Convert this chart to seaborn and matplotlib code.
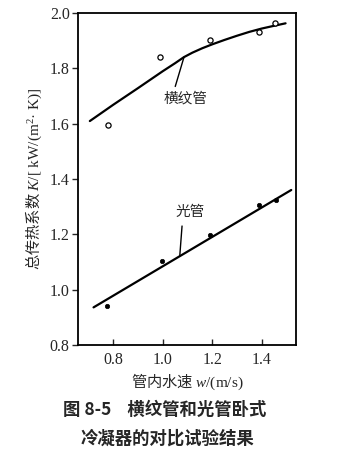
import matplotlib
matplotlib.use("Agg")
import matplotlib.pyplot as plt
import seaborn as sns
import pandas as pd

# Data
ribbed_x = [0.78, 0.99, 1.19, 1.39, 1.455]
ribbed_y = [1.595, 1.84, 1.90, 1.93, 1.963]
ribbed_fit_x = [0.705, 0.80, 0.90, 1.00, 1.05, 1.086, 1.12, 1.16, 1.20, 1.25, 1.30, 1.35, 1.40, 1.45, 1.497]
ribbed_fit_y = [1.609, 1.668, 1.728, 1.789, 1.818, 1.840, 1.856, 1.872, 1.886, 1.902, 1.917, 1.931, 1.943, 1.953, 1.962]

plain_x = [0.775, 0.995, 1.19, 1.39, 1.457]
plain_y = [0.942, 1.105, 1.197, 1.306, 1.324]
plain_fit_x = [0.72, 1.52]
plain_fit_y = [0.936, 1.360]

x_ticks = [0.8, 1.0, 1.2, 1.4]
y_ticks = [0.8, 1.0, 1.2, 1.4, 1.6, 1.8, 2.0]

label_ribbed = "横纹管"
label_plain = "光管"
xlabel = r"管内水速 $\mathit{w}\mathsf{/(m/s)}$"
ylabel = r"总传热系数 $\mathit{K}\mathsf{/[\ kW/(m^{2}·\ K)]}$"
caption1 = "图 8-5    横纹管和光管卧式"
caption2 = "冷凝器的对比试验结果"

sns.set_style("ticks")
plt.rcParams['font.family'] = ['Noto Sans CJK SC', 'Liberation Serif']
plt.rcParams['mathtext.fontset'] = 'custom'
plt.rcParams['mathtext.it'] = 'Liberation Serif:italic'
plt.rcParams['mathtext.rm'] = 'Liberation Serif'
plt.rcParams['mathtext.sf'] = 'Liberation Serif'

fig = plt.figure(figsize=(3.39, 4.57), dpi=100)
ax = fig.add_axes([0.230, 0.245, 0.643, 0.727])

pts_r = pd.DataFrame({"x": ribbed_x, "y": ribbed_y})
pts_p = pd.DataFrame({"x": plain_x, "y": plain_y})
fit_r = pd.DataFrame({"x": ribbed_fit_x, "y": ribbed_fit_y})
fit_p = pd.DataFrame({"x": plain_fit_x, "y": plain_fit_y})

sns.lineplot(data=fit_r, x="x", y="y", ax=ax, color="black", lw=1.6, sort=True)
sns.lineplot(data=fit_p, x="x", y="y", ax=ax, color="black", lw=1.6, sort=True)
sns.scatterplot(data=pts_r, x="x", y="y", ax=ax, marker="o", s=14,
                facecolor="white", edgecolor="black", linewidth=0.9, zorder=3)
sns.scatterplot(data=pts_p, x="x", y="y", ax=ax, marker="o", s=10,
                color="black", edgecolor="black", linewidth=0.5, zorder=3)

ax.set_xlim(0.657, 1.539)
ax.set_ylim(0.8, 2.0)
ax.set_xticks(x_ticks)
ax.set_yticks(y_ticks)
ax.set_xticklabels([f"{v:.1f}" for v in x_ticks], fontsize=11.5, family='Liberation Serif')
ax.set_yticklabels([f"{v:.1f}" for v in y_ticks], fontsize=11.5, family='Liberation Serif')
ax.tick_params(axis='x', direction='in', length=4, width=1.0, pad=5)
ax.tick_params(axis='y', direction='out', length=4, width=1.0, pad=2)
for sp in ax.spines.values():
    sp.set_visible(True)
    sp.set_linewidth(1.3)
    sp.set_color("black")

ax.set_xlabel(xlabel, fontsize=11, labelpad=3,
              family=['Noto Sans CJK SC', 'Liberation Serif'])
ax.set_ylabel(ylabel, fontsize=11, labelpad=4,
              family=['Noto Sans CJK SC', 'Liberation Serif'])

ax.annotate(label_ribbed, xy=(ribbed_fit_x[5], ribbed_fit_y[5]), xytext=(1.093, 1.692),
            ha='center', va='center', fontsize=10.5, family='Noto Sans CJK SC',
            arrowprops=dict(arrowstyle='-', color='black', lw=1.0, relpos=(0.23, 1.0),
                            shrinkA=1, shrinkB=0))
ax.annotate(label_plain, xy=(1.069, 1.123), xytext=(1.11, 1.282),
            ha='center', va='center', fontsize=10.5, family='Noto Sans CJK SC',
            arrowprops=dict(arrowstyle='-', color='black', lw=1.0, relpos=(0.25, 0.0),
                            shrinkA=3, shrinkB=0))

fig.text(0.487, 1 - 410/457, caption1, ha='center', va='center', fontsize=12.5,
         fontweight='bold', family=['Noto Sans CJK SC', 'Liberation Serif'])
fig.text(0.493, 1 - 439/457, caption2, ha='center', va='center', fontsize=12.5,
         fontweight='bold', family=['Noto Sans CJK SC', 'Liberation Serif'])

fig.savefig("out.png", dpi=100)
